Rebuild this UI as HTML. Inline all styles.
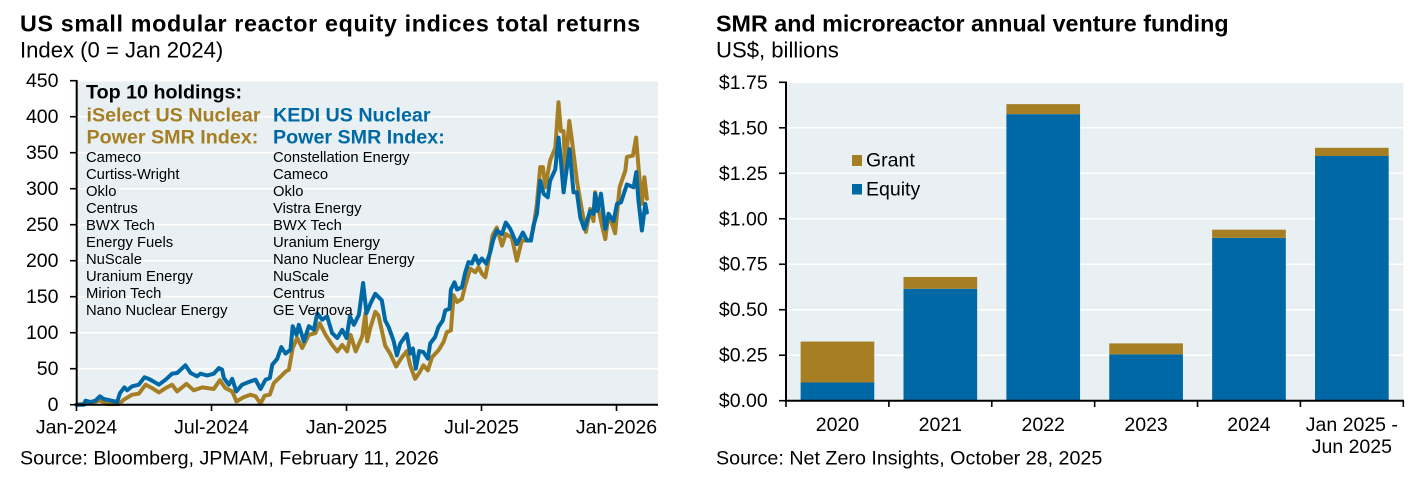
<!DOCTYPE html>
<html lang="en">
<head>
<meta charset="utf-8">
<title>SMR equity indices and venture funding</title>
<style>
html,body{margin:0;padding:0;background:#fff;}
body{width:1416px;height:481px;overflow:hidden;font-family:"Liberation Sans",Arial,sans-serif;}
svg{display:block;}
text{font-family:"Liberation Sans",Arial,sans-serif;fill:#000;}
.title{font-size:23.3px;font-weight:700;}
.sub{font-size:22.1px;}
.tick{font-size:19.5px;}
.src{font-size:19.7px;}
.hdr{font-size:19.7px;font-weight:700;}
.gold{fill:#a67f24;}
.blue{fill:#0069a5;}
.hold{font-size:14.8px;}
</style>
</head>
<body>
<svg id="page" width="1416" height="481" viewBox="0 0 1416 481" xmlns="http://www.w3.org/2000/svg">
  <g id="left">
    <text class="title" x="20" y="31.7" style="letter-spacing:.65px">US small modular reactor equity indices total returns</text>
    <text class="sub" x="20" y="57.5">Index (0 = Jan 2024)</text>
    <rect x="77" y="81" width="581" height="323.5" fill="#e8f0f3"/>
    <g id="left-grid"></g>
    <g id="left-lines"></g>
    <g id="left-axes"></g>
    <g>
      <text class="hdr" x="86" y="98.3">Top 10 holdings:</text>
      <text class="hdr gold" x="86.5" y="121.7">iSelect US Nuclear</text>
      <text class="hdr gold" x="86.5" y="143.3">Power SMR Index:</text>
      <text class="hdr blue" x="273" y="121.7">KEDI US Nuclear</text>
      <text class="hdr blue" x="273" y="143.3">Power SMR Index:</text>
      <g>
        <text class="hold" x="86" y="162">Cameco</text>
        <text class="hold" x="86" y="179">Curtiss-Wright</text>
        <text class="hold" x="86" y="196">Oklo</text>
        <text class="hold" x="86" y="213">Centrus</text>
        <text class="hold" x="86" y="230">BWX Tech</text>
        <text class="hold" x="86" y="247">Energy Fuels</text>
        <text class="hold" x="86" y="264">NuScale</text>
        <text class="hold" x="86" y="281">Uranium Energy</text>
        <text class="hold" x="86" y="298">Mirion Tech</text>
        <text class="hold" x="86" y="315">Nano Nuclear Energy</text>
      </g>
      <g>
        <text class="hold" x="273" y="162">Constellation Energy</text>
        <text class="hold" x="273" y="179">Cameco</text>
        <text class="hold" x="273" y="196">Oklo</text>
        <text class="hold" x="273" y="213">Vistra Energy</text>
        <text class="hold" x="273" y="230">BWX Tech</text>
        <text class="hold" x="273" y="247">Uranium Energy</text>
        <text class="hold" x="273" y="264">Nano Nuclear Energy</text>
        <text class="hold" x="273" y="281">NuScale</text>
        <text class="hold" x="273" y="298">Centrus</text>
        <text class="hold" x="273" y="315">GE Vernova</text>
      </g>
    </g>
    <text class="src" x="20" y="464.5">Source: Bloomberg, JPMAM, February 11, 2026</text>
  </g>
  <g id="right">
    <text class="title" x="716" y="31.7">SMR and microreactor annual venture funding</text>
    <text class="sub" x="716" y="57.5">US$, billions</text>
    <rect x="786" y="83" width="617.3" height="317.7" fill="#e8f0f3"/>
    <g id="right-grid"></g>
    <g id="right-bars"></g>
    <g id="right-axes"></g>
    <g>
      <rect x="852" y="155" width="10" height="11" fill="#a67f24"/>
      <text class="tick" x="866" y="166.7">Grant</text>
      <rect x="852" y="184" width="10" height="10.5" fill="#0069a5"/>
      <text class="tick" x="866" y="195.7">Equity</text>
    </g>
    <text class="src" x="716" y="464.5">Source: Net Zero Insights, October 28, 2025</text>
  </g>
</svg>
<script>
// ---- Left chart data (x = months since Jan-2024, y = index level) ----
const blueMonths = [0,.33,.40,.62,.84,1.04,1.21,1.51,1.81,1.93,2.13,2.25,2.47,2.77,3.02,3.21,3.36,3.66,3.96,4.25,4.47,4.84,5.07,5.36,5.51,5.81,6.10,6.33,6.47,6.55,6.77,6.92,7.10,7.36,7.73,7.96,8.18,8.40,8.59,8.70,8.92,9.10,9.29,9.51,9.61,9.78,9.88,10.10,10.33,10.55,10.70,10.92,11.14,11.36,11.59,11.81,12.0,12.15,12.33,12.55,12.74,12.89,13.07,13.28,13.57,13.72,13.87,14.09,14.24,14.39,14.68,14.83,14.95,15.08,15.23,15.42,15.62,15.72,15.94,16.09,16.28,16.39,16.58,16.64,16.80,16.91,17.13,17.28,17.42,17.57,17.72,17.87,18.02,18.21,18.39,18.51,18.68,18.91,19.08,19.28,19.57,19.84,20.02,20.2,20.31,20.46,20.61,20.76,20.94,21.05,21.28,21.42,21.5,21.65,21.77,21.91,22.09,22.24,22.39,22.57,22.83,22.98,23.05,23.16,23.31,23.5,23.65,23.87,24.02,24.2,24.46,24.76,24.88,24.98,25.13,25.28,25.35];
const blueValues = [0,0,5.6,3.7,5.6,11.6,7.9,6,3.7,16,24,20,25.5,27.8,38,35.8,33.3,27.8,34.7,43,44,54.7,44,39.4,43,40.5,43,51,48.6,37,27.8,35.8,18.5,27.8,32.4,34.7,21.8,34.7,37,55.6,63.7,80,71,76.4,109,97,111,88,109,104,127,118,122.7,99.5,92.6,104,92.6,122.7,111,125,169,127,141,154,145,117,108,89,68.5,85,98,71,78,50,74.5,73,64,85,94,108,117,131,133,160,170,160,163,184,198,196,207,196,203,196,212,228,242,237,253,244,223,239,228,228,249,265,311,293,288,311,327,371,348,295,323,355,295,295,260,244,269,265,293,269,293,244,265,255,279,281,306,302,323,283,242,279,267];
const goldMonths = [0,.62,1.04,1.36,1.88,2.10,2.47,2.77,3.07,3.36,3.66,3.96,4.25,4.47,4.89,5.21,5.59,6.1,6.37,6.62,6.92,7.11,7.44,7.73,7.96,8.18,8.36,8.59,8.77,9.07,9.29,9.44,9.61,9.81,10.03,10.33,10.62,10.81,11.07,11.36,11.59,11.81,12.03,12.18,12.41,12.7,12.84,12.92,13.05,13.28,13.42,13.57,13.72,13.94,14.21,14.46,14.68,14.83,15.05,15.25,15.42,15.62,15.8,16.09,16.31,16.46,16.64,16.76,16.91,17.13,17.28,17.5,17.72,17.87,18.02,18.17,18.31,18.49,18.68,18.91,19.08,19.35,19.57,19.79,20.17,20.31,20.46,20.61,20.73,20.83,21.05,21.28,21.42,21.53,21.65,21.72,21.9,22.02,22.24,22.39,22.64,22.83,22.98,23.05,23.31,23.5,23.65,23.94,24.14,24.39,24.46,24.73,24.87,24.98,25.13,25.24,25.35];
const goldValues = [0,2.3,6,.9,.9,6.9,13.9,15.3,27.8,23,17,23,27.8,18.5,29,20,24,21.8,34,23,18.5,4.6,10.6,13.9,11.6,1.4,12.5,13.9,30,39,46,48.6,78.7,92.6,78.7,97,99.5,113,97,83,74,83,74,97,74,95,127,88,105.5,129,124,103,82,71,53,66,74.5,54.6,36,45,54.6,47.7,66,75.5,87,101,103,152,142.6,147,166,189,184,191,182,177,200,235,246,221,237,232,200,228,228,246,279,330,330,302,339,357,420,380,380,325,394,367,311,283,240,272,255,295,255,230,265,238,302,325,344,346,371,330,279,316,286];
const leftYTicks = [0,50,100,150,200,250,300,350,400,450];
const leftXTickMonths = [0,6,12,18,24];
const leftXTickLabels = ['Jan-2024','Jul-2024','Jan-2025','Jul-2025','Jan-2026'];

// ---- Right chart data (US$ billions) ----
const fundingCategories = ['2020','2021','2022','2023','2024',['Jan 2025 -','Jun 2025']];
const equityValues = [0.10,0.615,1.575,0.255,0.895,1.345];
const grantValues = [0.225,0.065,0.055,0.06,0.045,0.045];
const rightYTicks = [0,0.25,0.5,0.75,1,1.25,1.5,1.75];

const NS = 'http://www.w3.org/2000/svg';
const GOLD = '#a67f24', BLUE = '#0069a5';
function make(tag, attrs, parent, txt){
  const el = document.createElementNS(NS, tag);
  for (const k in attrs) el.setAttribute(k, attrs[k]);
  if (txt !== undefined) el.textContent = txt;
  parent.appendChild(el);
  return el;
}
const lx = m => 76.5 + m * 22.5;
const ly = v => 404.7 - v * 0.72;
const rx = i => 786 + i * (617.3 / 6);
const ry = v => 400.7 - v * (318.4 / 1.75);

const leftGrid = document.getElementById('left-grid');
const leftAxes = document.getElementById('left-axes');
const leftLines = document.getElementById('left-lines');

leftYTicks.forEach(t => {
  if (t > 0) {
    const g = make('line', {x1:77, x2:658, y1:ly(t), y2:ly(t), stroke:'#fff', 'stroke-width':1.5}, leftGrid);
    
    
  }
  const tk = make('line', {x1:70, x2:77, y1:ly(t), y2:ly(t), stroke:'#000', 'stroke-width':1.6}, leftAxes);
  
  
  const lb = make('text', {x:58.5, y:ly(t)+6.5, 'text-anchor':'end', class:'tick'}, leftAxes, String(t));
  
  
});

function linePath(xs, ys){
  return xs.map((m,i) => (i ? 'L' : 'M') + lx(m).toFixed(1) + ' ' + ly(ys[i]).toFixed(1)).join('');
}
const goldPath = make('path', {d:linePath(goldMonths, goldValues), fill:'none', stroke:GOLD, 'stroke-width':4, 'stroke-linejoin':'round', 'stroke-linecap':'round'}, leftLines);


const bluePath = make('path', {d:linePath(blueMonths, blueValues), fill:'none', stroke:BLUE, 'stroke-width':4, 'stroke-linejoin':'round', 'stroke-linecap':'round'}, leftLines);



const leftYAxis = make('line', {x1:76.7, x2:76.7, y1:80, y2:405.5, stroke:'#000', 'stroke-width':2}, leftAxes);


const leftXAxis = make('line', {x1:76, x2:658, y1:404.7, y2:404.7, stroke:'#000', 'stroke-width':2}, leftAxes);



leftXTickMonths.forEach((m,i) => {
  const tk = make('line', {x1:lx(m), x2:lx(m), y1:404.7, y2:411, stroke:'#000', 'stroke-width':1.6}, leftAxes);
  
  
  const lb = make('text', {x:lx(m), y:433.5, 'text-anchor':'middle', class:'tick'}, leftAxes, leftXTickLabels[i]);
  
  
});

const rightGrid = document.getElementById('right-grid');
const rightBars = document.getElementById('right-bars');
const rightAxes = document.getElementById('right-axes');

rightYTicks.forEach(t => {
  if (t > 0) {
    const g = make('line', {x1:786, x2:1403.3, y1:ry(t), y2:ry(t), stroke:'#fff', 'stroke-width':1.5}, rightGrid);
    
    
  }
  const tk = make('line', {x1:779, x2:786, y1:ry(t), y2:ry(t), stroke:'#000', 'stroke-width':1.6}, rightAxes);
  
  
  const lb = make('text', {x:767.7, y:ry(t)+6.5, 'text-anchor':'end', class:'tick'}, rightAxes, '$' + t.toFixed(2));
  
  
});

fundingCategories.forEach((c,i) => {
  const step = 617.3 / 6, w = step * 0.716;
  const x = rx(i) + (step - w) / 2;
  const eq = make('rect', {x:x, width:w, y:ry(equityValues[i]), height:ry(0)-ry(equityValues[i]), fill:BLUE}, rightBars);
  
  
  const top = equityValues[i] + grantValues[i];
  const gr = make('rect', {x:x, width:w, y:ry(top), height:ry(equityValues[i])-ry(top), fill:GOLD}, rightBars);
  
  
  const lines = Array.isArray(c) ? c : [c];
  lines.forEach((s,j) => {
    const lb = make('text', {x:rx(i)+step/2, y:431+j*22, 'text-anchor':'middle', class:'tick'}, rightAxes, s);
    
    
  });
});

for (let i = 0; i <= fundingCategories.length; i++) {
  const tk = make('line', {x1:rx(i), x2:rx(i), y1:400.7, y2:407, stroke:'#000', 'stroke-width':1.6}, rightAxes);
  
  
}
const rightYAxis = make('line', {x1:786, x2:786, y1:81.5, y2:401.7, stroke:'#000', 'stroke-width':2}, rightAxes);


const rightXAxis = make('line', {x1:785, x2:1404, y1:400.7, y2:400.7, stroke:'#000', 'stroke-width':2}, rightAxes);


</script>
</body>
</html>
